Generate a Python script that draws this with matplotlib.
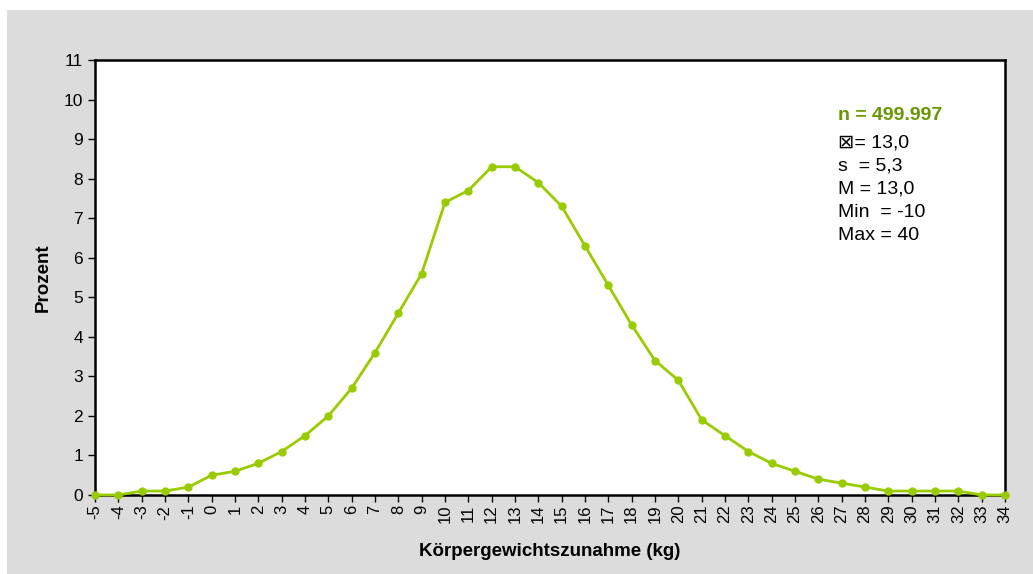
import matplotlib.pyplot as plt
from matplotlib.patches import Rectangle

plt.rcParams['font.family'] = ['Liberation Sans', 'DejaVu Sans']

# Körpergewichtszunahme in kg und Anteil in Prozent
kg = list(range(-5, 35))
prozent = [0.0, 0.0, 0.1, 0.1, 0.2, 0.5, 0.6, 0.8, 1.1, 1.5,
           2.0, 2.7, 3.6, 4.6, 5.6, 7.4, 7.7, 8.3, 8.3, 7.9,
           7.3, 6.3, 5.3, 4.3, 3.4, 2.9, 1.9, 1.5, 1.1, 0.8,
           0.6, 0.4, 0.3, 0.2, 0.1, 0.1, 0.1, 0.1, 0.0, 0.0]

stat_n = 'n = 499.997'
stat_lines = ['\u22a0= 13,0', 's  = 5,3', 'M = 13,0', 'Min  = -10', 'Max = 40']

W, H = 1033, 574
fig = plt.figure(figsize=(W / 100, H / 100), dpi=100, facecolor='white')
fig.patches.append(Rectangle((7 / W, 0), 1 - 7 / W, 1 - 10 / H,
                             transform=fig.transFigure, facecolor='#dcdcdc',
                             edgecolor='none', zorder=-10))

ax = fig.add_axes([95 / W, 1 - 495 / H, 910 / W, 435 / H])
ax.set_facecolor('white')
ax.plot(kg, prozent, color='#99cc00', lw=2, marker='o', ms=5, clip_on=False, zorder=3)

ax.set_xlim(-5, 34)
ax.set_ylim(0, 11)
ax.set_xticks(kg)
ax.set_xticklabels([str(k) for k in kg], rotation=90, fontsize=12)
ax.set_yticks(range(0, 12))
ax.tick_params(axis='y', labelsize=12.5, length=5, width=1, direction='out')
ax.tick_params(axis='x', length=5, width=1, direction='out', pad=2)
for sp in ax.spines.values():
    sp.set_linewidth(1.8)
    sp.set_color('black')

ax.set_xlabel('Körpergewichtszunahme (kg)', fontsize=13.5, fontweight='bold')
ax.xaxis.set_label_coords(0.5, -(552 - 495) / 435, transform=ax.transAxes)
ax.set_ylabel('Prozent', fontsize=13.5, fontweight='bold')
ax.yaxis.set_label_coords(-(95 - 43) / 910, 0.5, transform=ax.transAxes)
ax.xaxis.label.set_va('center')
ax.yaxis.label.set_va('center')

fig.text(838 / W, 1 - 115 / H, stat_n, color='#669900', fontsize=14,
         fontweight='bold', va='center', ha='left')
for i, t in enumerate(stat_lines):
    fig.text(838 / W, 1 - (143 + 23 * i) / H, t, fontsize=14, va='center',
             ha='left', family=['Liberation Sans', 'DejaVu Sans'])

fig.savefig('out.png', dpi=100)
